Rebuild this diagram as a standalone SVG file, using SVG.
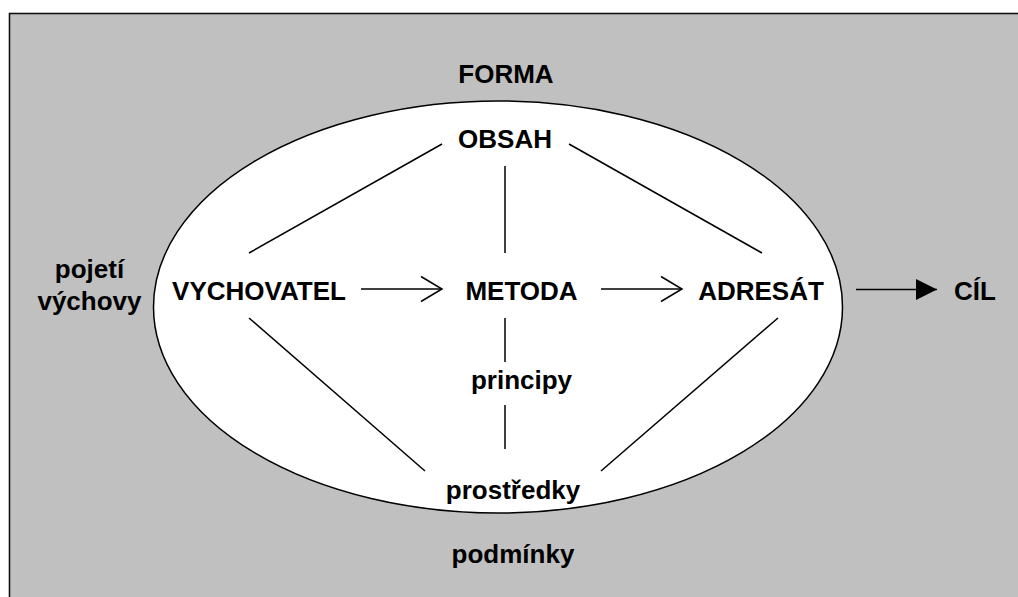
<svg xmlns="http://www.w3.org/2000/svg" width="1018" height="597" viewBox="0 0 1018 597">
  <style>
    .t { font-family: "Liberation Sans", Arial, sans-serif; font-weight: bold; font-size: 26px; fill: #000; text-anchor: middle; }
    .c { stroke: #000; stroke-width: 1.5; fill: none; }
  </style>
  <defs>
    <marker id="open" viewBox="0 0 24 28" refX="22" refY="14" markerWidth="24" markerHeight="28" markerUnits="userSpaceOnUse" orient="auto">
      <path d="M1,1.5 L22,14 L1,26.5" fill="none" stroke="#000" stroke-width="1.5"/>
    </marker>
    <marker id="solid" viewBox="0 0 21 21" refX="21" refY="10.5" markerWidth="21" markerHeight="21" markerUnits="userSpaceOnUse" orient="auto">
      <path d="M0,0 L21,10.5 L0,21 Z" fill="#000"/>
    </marker>
  </defs>

  <rect id="background" x="9.5" y="13.5" width="1020" height="600" fill="#c0c0c0" stroke="#111" stroke-width="1.6"/>
  <ellipse id="ellipse" cx="498" cy="307" rx="344.5" ry="206" fill="#fff" stroke="#000" stroke-width="1.5"/>

  <g id="connectors">
    <line class="c" x1="442" y1="144" x2="249" y2="253"/>
    <line class="c" x1="569" y1="144" x2="762" y2="253"/>
    <line class="c" x1="505" y1="166" x2="505" y2="253"/>
    <line class="c" x1="505" y1="318" x2="505" y2="362"/>
    <line class="c" x1="505" y1="405" x2="505" y2="449"/>
    <line class="c" x1="249" y1="318" x2="425" y2="471"/>
    <line class="c" x1="778" y1="318" x2="601" y2="471"/>
    <line class="c" x1="361" y1="289" x2="442" y2="289" marker-end="url(#open)"/>
    <line class="c" x1="601" y1="289" x2="682" y2="289" marker-end="url(#open)"/>
    <line class="c" x1="856" y1="289.5" x2="937" y2="289.5" marker-end="url(#solid)"/>
  </g>

  <g id="forma"><text class="t" x="506" y="83">FORMA</text></g>
  <g id="obsah"><text class="t" x="505" y="148">OBSAH</text></g>
  <g id="pojeti"><text class="t" x="89.5" y="278">pojetí</text><text class="t" x="89.5" y="310">výchovy</text></g>
  <g id="vychovatel"><text class="t" x="259" y="300">VYCHOVATEL</text></g>
  <g id="metoda"><text class="t" x="521.5" y="300">METODA</text></g>
  <g id="adresat"><text class="t" x="761" y="300">ADRESÁT</text></g>
  <g id="cil"><text class="t" x="975" y="300">CÍL</text></g>
  <g id="principy"><text class="t" x="521.5" y="389">principy</text></g>
  <g id="prostredky"><text class="t" x="513" y="499">prostředky</text></g>
  <g id="podminky"><text class="t" x="513" y="563">podmínky</text></g>
</svg>
